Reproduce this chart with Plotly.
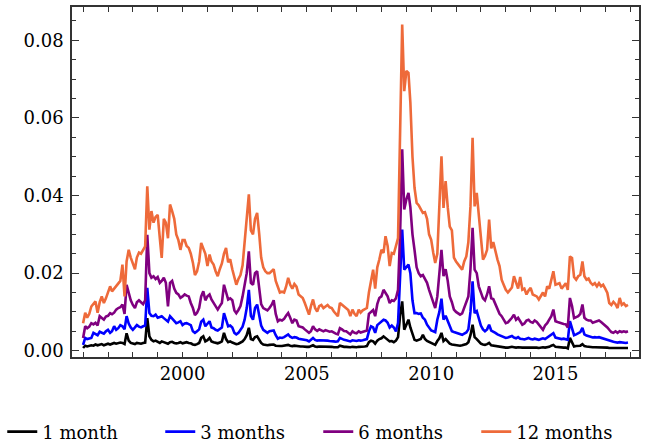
import plotly.graph_objects as go

years = list(range(1996, 2018))
months = list(range(1, 13))
dates = [f"{y}-{m:02d}-01" for y in years for m in months]

one_month = [
    0.0007, 0.0013, 0.0011, 0.0012, 0.0014, 0.0013, 0.0016, 0.0014, 0.0015, 0.0017, 0.0014, 0.0016,
    0.0018, 0.0016, 0.0017, 0.0020, 0.0018, 0.0019, 0.0021, 0.0020, 0.0017, 0.0045, 0.0026, 0.0020,
    0.0018, 0.0017, 0.0020, 0.0019, 0.0018, 0.0020, 0.0021, 0.0084, 0.0037, 0.0028, 0.0024, 0.0026,
    0.0022, 0.0020, 0.0024, 0.0022, 0.0021, 0.0018, 0.0022, 0.0023, 0.0020, 0.0019, 0.0020, 0.0022,
    0.0019, 0.0021, 0.0022, 0.0020, 0.0019, 0.0016, 0.0015, 0.0017, 0.0020, 0.0033, 0.0037, 0.0024,
    0.0027, 0.0033, 0.0024, 0.0022, 0.0020, 0.0019, 0.0021, 0.0024, 0.0046, 0.0030, 0.0022, 0.0024,
    0.0021, 0.0018, 0.0017, 0.0018, 0.0021, 0.0024, 0.0030, 0.0040, 0.0059, 0.0030, 0.0028, 0.0035,
    0.0037, 0.0028, 0.0020, 0.0016, 0.0015, 0.0014, 0.0015, 0.0015, 0.0016, 0.0013, 0.0012, 0.0012,
    0.0012, 0.0013, 0.0014, 0.0015, 0.0013, 0.0012, 0.0013, 0.0012, 0.0011, 0.0011, 0.0011, 0.0010,
    0.0010, 0.0010, 0.0011, 0.0014, 0.0011, 0.0010, 0.0011, 0.0011, 0.0010, 0.0011, 0.0010, 0.0010,
    0.0010, 0.0009, 0.0009, 0.0009, 0.0013, 0.0011, 0.0010, 0.0010, 0.0009, 0.0009, 0.0010, 0.0009,
    0.0009, 0.0010, 0.0010, 0.0010, 0.0011, 0.0012, 0.0022, 0.0026, 0.0024, 0.0018, 0.0026, 0.0030,
    0.0032, 0.0037, 0.0033, 0.0030, 0.0024, 0.0025, 0.0022, 0.0026, 0.0035, 0.0090, 0.0127, 0.0054,
    0.0068, 0.0080, 0.0060, 0.0040, 0.0028, 0.0026, 0.0028, 0.0030, 0.0041, 0.0030, 0.0025, 0.0022,
    0.0021, 0.0018, 0.0015, 0.0025, 0.0032, 0.0046, 0.0025, 0.0030, 0.0024, 0.0018, 0.0016, 0.0015,
    0.0014, 0.0013, 0.0013, 0.0014, 0.0015, 0.0017, 0.0022, 0.0040, 0.0067, 0.0035, 0.0030, 0.0025,
    0.0018, 0.0016, 0.0015, 0.0017, 0.0020, 0.0014, 0.0013, 0.0012, 0.0011, 0.0010, 0.0009, 0.0008,
    0.0008, 0.0008, 0.0009, 0.0010, 0.0009, 0.0008, 0.0009, 0.0008, 0.0008, 0.0008, 0.0008, 0.0009,
    0.0008, 0.0008, 0.0008, 0.0008, 0.0007, 0.0008, 0.0009, 0.0008, 0.0009, 0.0010, 0.0013, 0.0015,
    0.0010, 0.0009, 0.0009, 0.0009, 0.0008, 0.0008, 0.0006, 0.0033, 0.0020, 0.0011, 0.0012, 0.0012,
    0.0013, 0.0017, 0.0012, 0.0011, 0.0010, 0.0010, 0.0009, 0.0009, 0.0009, 0.0009, 0.0009, 0.0008,
    0.0008, 0.0008, 0.0007, 0.0007, 0.0007, 0.0007, 0.0006, 0.0007, 0.0007, 0.0007, 0.0007, 0.0007,
]

three_months = [
    0.0015, 0.0033, 0.0030, 0.0031, 0.0033, 0.0046, 0.0042, 0.0040, 0.0049, 0.0046, 0.0044, 0.0050,
    0.0054, 0.0046, 0.0050, 0.0063, 0.0054, 0.0058, 0.0066, 0.0063, 0.0055, 0.0089, 0.0070, 0.0060,
    0.0054, 0.0060, 0.0066, 0.0062, 0.0060, 0.0063, 0.0065, 0.0162, 0.0097, 0.0090, 0.0089, 0.0093,
    0.0085, 0.0087, 0.0089, 0.0084, 0.0080, 0.0075, 0.0089, 0.0082, 0.0076, 0.0071, 0.0073, 0.0076,
    0.0066, 0.0070, 0.0071, 0.0068, 0.0066, 0.0050, 0.0046, 0.0050, 0.0055, 0.0075, 0.0080, 0.0063,
    0.0070, 0.0076, 0.0060, 0.0058, 0.0054, 0.0052, 0.0056, 0.0060, 0.0097, 0.0080, 0.0063, 0.0065,
    0.0060, 0.0046, 0.0042, 0.0046, 0.0055, 0.0062, 0.0080, 0.0110, 0.0157, 0.0090, 0.0080, 0.0110,
    0.0119, 0.0089, 0.0065, 0.0054, 0.0050, 0.0046, 0.0050, 0.0051, 0.0052, 0.0040, 0.0031, 0.0034,
    0.0033, 0.0035, 0.0038, 0.0042, 0.0036, 0.0033, 0.0035, 0.0034, 0.0031, 0.0030, 0.0030, 0.0028,
    0.0027, 0.0024, 0.0028, 0.0033, 0.0028, 0.0026, 0.0027, 0.0027, 0.0026, 0.0027, 0.0026, 0.0025,
    0.0025, 0.0024, 0.0023, 0.0024, 0.0033, 0.0030, 0.0028, 0.0027, 0.0025, 0.0024, 0.0027, 0.0026,
    0.0025, 0.0027, 0.0026, 0.0027, 0.0029, 0.0030, 0.0050, 0.0063, 0.0060, 0.0046, 0.0066, 0.0070,
    0.0075, 0.0080, 0.0078, 0.0072, 0.0060, 0.0065, 0.0060, 0.0050, 0.0071, 0.0180, 0.0312, 0.0209,
    0.0215, 0.0222, 0.0200, 0.0130, 0.0097, 0.0097, 0.0095, 0.0096, 0.0085, 0.0080, 0.0067, 0.0060,
    0.0052, 0.0050, 0.0048, 0.0080, 0.0100, 0.0134, 0.0080, 0.0090, 0.0075, 0.0060, 0.0050, 0.0048,
    0.0046, 0.0045, 0.0043, 0.0041, 0.0044, 0.0047, 0.0055, 0.0100, 0.0179, 0.0097, 0.0102, 0.0080,
    0.0065, 0.0055, 0.0050, 0.0055, 0.0067, 0.0052, 0.0050, 0.0046, 0.0042, 0.0040, 0.0037, 0.0035,
    0.0033, 0.0034, 0.0036, 0.0038, 0.0034, 0.0032, 0.0035, 0.0031, 0.0030, 0.0029, 0.0031, 0.0033,
    0.0030, 0.0029, 0.0031, 0.0030, 0.0028, 0.0030, 0.0032, 0.0030, 0.0034, 0.0036, 0.0042, 0.0045,
    0.0034, 0.0032, 0.0031, 0.0030, 0.0031, 0.0030, 0.0028, 0.0076, 0.0060, 0.0040, 0.0042, 0.0045,
    0.0048, 0.0059, 0.0042, 0.0039, 0.0037, 0.0037, 0.0034, 0.0035, 0.0034, 0.0035, 0.0033, 0.0032,
    0.0030, 0.0029, 0.0027, 0.0025, 0.0023, 0.0022, 0.0021, 0.0022, 0.0021, 0.0021, 0.0020, 0.0021,
]

six_months = [
    0.0033, 0.0063, 0.0058, 0.0062, 0.0071, 0.0068, 0.0072, 0.0065, 0.0089, 0.0085, 0.0080, 0.0088,
    0.0090, 0.0097, 0.0094, 0.0098, 0.0106, 0.0110, 0.0112, 0.0119, 0.0095, 0.0170, 0.0146, 0.0130,
    0.0118, 0.0110, 0.0125, 0.0130, 0.0125, 0.0120, 0.0130, 0.0299, 0.0200, 0.0188, 0.0192, 0.0185,
    0.0190, 0.0175, 0.0180, 0.0188, 0.0175, 0.0114, 0.0175, 0.0180, 0.0160, 0.0149, 0.0145, 0.0136,
    0.0140, 0.0145, 0.0142, 0.0140, 0.0123, 0.0110, 0.0092, 0.0098, 0.0110, 0.0140, 0.0153, 0.0130,
    0.0140, 0.0145, 0.0132, 0.0123, 0.0112, 0.0106, 0.0115, 0.0123, 0.0170, 0.0150, 0.0132, 0.0135,
    0.0130, 0.0104, 0.0097, 0.0105, 0.0115, 0.0140, 0.0170, 0.0200, 0.0256, 0.0175, 0.0170, 0.0200,
    0.0205, 0.0160, 0.0120, 0.0110, 0.0106, 0.0104, 0.0110, 0.0118, 0.0130, 0.0095, 0.0076, 0.0080,
    0.0078, 0.0082, 0.0090, 0.0097, 0.0085, 0.0071, 0.0080, 0.0078, 0.0063, 0.0062, 0.0060, 0.0055,
    0.0050, 0.0046, 0.0050, 0.0063, 0.0055, 0.0051, 0.0055, 0.0052, 0.0050, 0.0053, 0.0051, 0.0049,
    0.0050, 0.0046, 0.0044, 0.0042, 0.0058, 0.0055, 0.0051, 0.0050, 0.0047, 0.0042, 0.0050, 0.0046,
    0.0045, 0.0050, 0.0047, 0.0049, 0.0050, 0.0052, 0.0095, 0.0101, 0.0105, 0.0089, 0.0120, 0.0136,
    0.0140, 0.0157, 0.0150, 0.0140, 0.0123, 0.0130, 0.0128, 0.0135, 0.0157, 0.0300, 0.0519, 0.0364,
    0.0390, 0.0407, 0.0370, 0.0300, 0.0260, 0.0215, 0.0200, 0.0192, 0.0195, 0.0183, 0.0175, 0.0157,
    0.0140, 0.0125, 0.0110, 0.0140, 0.0200, 0.0260, 0.0192, 0.0210, 0.0180, 0.0140, 0.0125, 0.0106,
    0.0100, 0.0095, 0.0093, 0.0096, 0.0110, 0.0123, 0.0140, 0.0210, 0.0317, 0.0209, 0.0200, 0.0166,
    0.0150, 0.0135, 0.0130, 0.0145, 0.0166, 0.0135, 0.0133, 0.0120, 0.0106, 0.0095, 0.0089, 0.0080,
    0.0071, 0.0073, 0.0078, 0.0085, 0.0093, 0.0080, 0.0085, 0.0076, 0.0067, 0.0070, 0.0078, 0.0080,
    0.0074, 0.0072, 0.0078, 0.0074, 0.0067, 0.0062, 0.0054, 0.0065, 0.0071, 0.0080, 0.0089, 0.0106,
    0.0076, 0.0074, 0.0072, 0.0070, 0.0069, 0.0068, 0.0060, 0.0136, 0.0115, 0.0084, 0.0086, 0.0089,
    0.0095, 0.0119, 0.0085, 0.0080, 0.0078, 0.0078, 0.0072, 0.0074, 0.0076, 0.0078, 0.0074, 0.0070,
    0.0065, 0.0060, 0.0054, 0.0048, 0.0046, 0.0050, 0.0046, 0.0050, 0.0048, 0.0050, 0.0048, 0.0050,
]

twelve_months = [
    0.0071, 0.0098, 0.0085, 0.0095, 0.0114, 0.0120, 0.0127, 0.0098, 0.0125, 0.0140, 0.0123, 0.0135,
    0.0150, 0.0166, 0.0153, 0.0160, 0.0166, 0.0175, 0.0180, 0.0222, 0.0140, 0.0230, 0.0260, 0.0240,
    0.0225, 0.0210, 0.0240, 0.0253, 0.0250, 0.0260, 0.0269, 0.0424, 0.0312, 0.0360, 0.0330, 0.0345,
    0.0350, 0.0290, 0.0239, 0.0340, 0.0330, 0.0290, 0.0377, 0.0360, 0.0340, 0.0300, 0.0285, 0.0260,
    0.0285, 0.0285, 0.0270, 0.0265, 0.0250, 0.0227, 0.0195, 0.0205, 0.0230, 0.0278, 0.0265, 0.0250,
    0.0218, 0.0248, 0.0230, 0.0222, 0.0205, 0.0192, 0.0210, 0.0225, 0.0250, 0.0265, 0.0228, 0.0236,
    0.0210, 0.0185, 0.0170, 0.0185, 0.0195, 0.0220, 0.0280, 0.0350, 0.0403, 0.0310, 0.0300, 0.0340,
    0.0355, 0.0300, 0.0240, 0.0215, 0.0205, 0.0200, 0.0200, 0.0205, 0.0210, 0.0180, 0.0166, 0.0150,
    0.0152, 0.0150, 0.0165, 0.0188, 0.0170, 0.0160, 0.0172, 0.0165, 0.0145, 0.0140, 0.0136, 0.0123,
    0.0106, 0.0093, 0.0115, 0.0132, 0.0110, 0.0101, 0.0115, 0.0118, 0.0110, 0.0115, 0.0118, 0.0112,
    0.0110, 0.0101, 0.0095, 0.0089, 0.0123, 0.0118, 0.0115, 0.0110, 0.0105, 0.0089, 0.0106, 0.0095,
    0.0089, 0.0106, 0.0098, 0.0104, 0.0108, 0.0110, 0.0150, 0.0175, 0.0209, 0.0160, 0.0215, 0.0235,
    0.0260, 0.0252, 0.0295, 0.0270, 0.0218, 0.0252, 0.0250, 0.0270, 0.0290, 0.0560, 0.0841, 0.0669,
    0.0721, 0.0716, 0.0640, 0.0500, 0.0420, 0.0381, 0.0375, 0.0365, 0.0355, 0.0357, 0.0340, 0.0300,
    0.0286, 0.0252, 0.0226, 0.0250, 0.0355, 0.0501, 0.0368, 0.0437, 0.0370, 0.0320, 0.0310, 0.0240,
    0.0230, 0.0223, 0.0215, 0.0209, 0.0230, 0.0243, 0.0280, 0.0372, 0.0549, 0.0372, 0.0407, 0.0355,
    0.0282, 0.0235, 0.0244, 0.0260, 0.0338, 0.0264, 0.0280, 0.0255, 0.0235, 0.0218, 0.0183, 0.0170,
    0.0157, 0.0150, 0.0155, 0.0163, 0.0192, 0.0175, 0.0160, 0.0190, 0.0157, 0.0160, 0.0145, 0.0155,
    0.0162, 0.0145, 0.0142, 0.0140, 0.0132, 0.0140, 0.0150, 0.0140, 0.0166, 0.0160, 0.0183, 0.0205,
    0.0170, 0.0172, 0.0174, 0.0160, 0.0168, 0.0174, 0.0157, 0.0243, 0.0239, 0.0190, 0.0183, 0.0192,
    0.0196, 0.0230, 0.0192, 0.0183, 0.0186, 0.0175, 0.0170, 0.0174, 0.0166, 0.0174, 0.0166, 0.0170,
    0.0160, 0.0149, 0.0123, 0.0118, 0.0126, 0.0120, 0.0110, 0.0136, 0.0118, 0.0122, 0.0115, 0.0118,
]

series_names = ["1 month", "3 months", "6 months", "12 months"]
series_values = [one_month, three_months, six_months, twelve_months]
series_colors = ["#000000", "#0000FF", "#800080", "#EE6A3A"]

fig = go.Figure()
for name, vals, col in zip(series_names, series_values, series_colors):
    fig.add_trace(go.Scatter(x=dates, y=vals, mode="lines", name=name,
                             line=dict(color=col, width=2.6)))

font_family = "DejaVu Serif"
axis_col = "#333333"

fig.update_layout(
    width=653, height=444,
    margin=dict(l=72, r=14, t=7, b=87, autoexpand=False),
    paper_bgcolor="white", plot_bgcolor="white",
    font=dict(family=font_family, size=18, color="black"),
    showlegend=True,
    legend=dict(orientation="h", xref="paper", yref="paper",
                x=-0.123, xanchor="left", y=-0.214, yanchor="middle",
                font=dict(family=font_family, size=18, color="black"),
                itemwidth=30, tracegroupgap=0,
                entrywidth=113, entrywidthmode="pixels",
                bgcolor="rgba(0,0,0,0)"),
)

fig.update_xaxes(
    type="date", range=["1995-07-22", "2018-05-12"],
    dtick="M60", tick0="2000-01-01", tickformat="%Y",
    ticks="inside", ticklen=5, tickwidth=1.2, tickcolor=axis_col,
    showline=True, linecolor=axis_col, linewidth=1.5, mirror="allticks",
    showgrid=False, zeroline=False,
    tickfont=dict(family=font_family, size=18, color="black"),
    minor=dict(dtick="M12", tick0="2000-01-01", ticks="inside", ticklen=5,
               tickwidth=1.2, tickcolor=axis_col, showgrid=False),
)
fig.update_yaxes(
    range=[-0.00162, 0.0886],
    dtick=0.02, tick0=0, tickformat=".2f",
    ticks="inside", ticklen=7, tickwidth=1.2, tickcolor=axis_col,
    showline=True, linecolor=axis_col, linewidth=1.5, mirror="allticks",
    showgrid=False, zeroline=False, ticklabelstandoff=3,
    tickfont=dict(family=font_family, size=18, color="black"),
    minor=dict(dtick=0.005, tick0=0, ticks="inside", ticklen=4,
               tickwidth=1.2, tickcolor=axis_col, showgrid=False),
)

fig.write_html("out.html")
